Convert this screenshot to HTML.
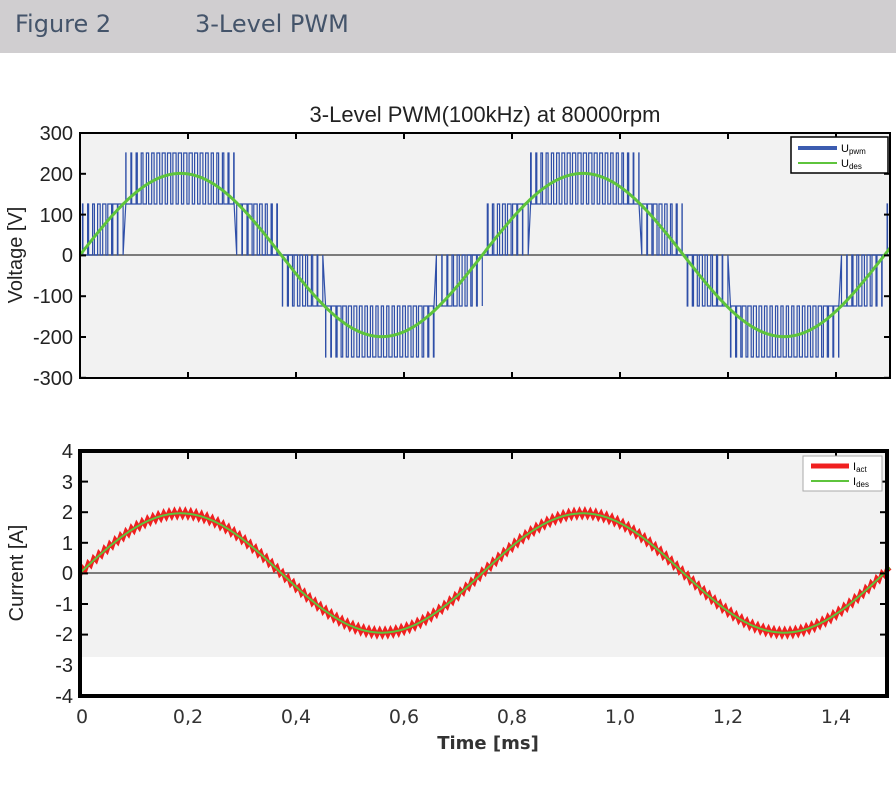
<!DOCTYPE html>
<html><head><meta charset="utf-8"><style>
body{margin:0;background:#fff;width:896px;height:811px;overflow:hidden;font-family:"Liberation Sans",Arial,sans-serif}
.hdr{position:absolute;left:0;top:0;width:896px;height:53px;background:#d0ced0;color:#44546a;font-family:"DejaVu Sans","Liberation Sans",sans-serif;font-size:24px}
</style></head><body>
<div class="hdr"><span style="position:absolute;left:15px;top:10px">Figure 2</span><span style="position:absolute;left:195px;top:10px">3-Level PWM</span></div>
<svg id="s" width="896" height="811" style="position:absolute;left:0;top:0" xmlns="http://www.w3.org/2000/svg">
<rect x="80" y="133" width="810" height="245" fill="#f2f2f2"/>
<rect x="80" y="451" width="807" height="206" fill="#f2f2f2"/>
<line x1="80" y1="255" x2="890" y2="255" stroke="#555" stroke-width="1.5"/>
<line x1="80" y1="573" x2="887" y2="573" stroke="#555" stroke-width="1.5"/>
<path id="pwm" fill="none" stroke="#2f4fa8" stroke-width="1.2"/>
<path id="ud" fill="none" stroke="#5ec43c" stroke-width="3"/>
<path id="ia" fill="none" stroke="#f02020" stroke-width="4"/>
<path id="id" fill="none" stroke="#5ec43c" stroke-width="2"/>
<rect x="80" y="133" width="810" height="245" fill="none" stroke="#000" stroke-width="2"/>
<rect x="80" y="451" width="807" height="245" fill="none" stroke="#000" stroke-width="4"/>
<g id="ticks" stroke="#000" stroke-width="2"></g>
<g font-size="20" fill="#222" text-anchor="end">
<text x="73" y="140">300</text><text x="73" y="181">200</text><text x="73" y="222">100</text><text x="73" y="262">0</text><text x="73" y="303">-100</text><text x="73" y="344">-200</text><text x="73" y="385">-300</text>
<text x="73" y="458">4</text><text x="73" y="489">3</text><text x="73" y="519">2</text><text x="73" y="550">1</text><text x="73" y="580">0</text><text x="73" y="611">-1</text><text x="73" y="641">-2</text><text x="73" y="672">-3</text><text x="73" y="703">-4</text>
</g>
<text x="485" y="122" font-size="22" text-anchor="middle" fill="#222">3-Level PWM(100kHz) at 80000rpm</text>
<text transform="translate(22,255) rotate(-90)" font-size="20" text-anchor="middle" fill="#222">Voltage [V]</text>
<text transform="translate(23,573) rotate(-90)" font-size="20" text-anchor="middle" fill="#222">Current [A]</text>
<g font-family="DejaVu Sans,Liberation Sans,sans-serif" font-size="19" fill="#333" text-anchor="middle">
<text x="82" y="723">0</text><text x="188" y="723">0,2</text><text x="296" y="723">0,4</text><text x="404" y="723">0,6</text><text x="512" y="723">0,8</text><text x="620" y="723">1,0</text><text x="728" y="723">1,2</text><text x="836" y="723">1,4</text>
</g>
<text x="488" y="749" font-family="DejaVu Sans,Liberation Sans,sans-serif" font-size="18" font-weight="bold" text-anchor="middle" fill="#333">Time [ms]</text>
<rect x="791" y="137" width="97" height="36" fill="#fff" stroke="#000" stroke-width="1.5"/>
<line x1="798" y1="148" x2="837" y2="148" stroke="#3c5cb0" stroke-width="4"/>
<line x1="798" y1="163" x2="837" y2="163" stroke="#5ec43c" stroke-width="2"/>
<text x="841" y="152" font-size="11">U<tspan font-size="8" dy="2">pwm</tspan></text>
<text x="841" y="167" font-size="11">U<tspan font-size="8" dy="2">des</tspan></text>
<rect x="803" y="456" width="79" height="35" fill="#fff" stroke="#aaa" stroke-width="1"/>
<line x1="811" y1="466" x2="849" y2="466" stroke="#f02020" stroke-width="5"/>
<line x1="811" y1="481" x2="849" y2="481" stroke="#5ec43c" stroke-width="2"/>
<text x="853" y="470" font-size="11">I<tspan font-size="8" dy="2">act</tspan></text>
<text x="853" y="485" font-size="11">I<tspan font-size="8" dy="2">des</tspan></text>
</svg>
<script>
var X0=80,PX=540,T=0.745;
function X(t){return X0+t*PX}
var f=function(t){return Math.sin(2*Math.PI*t/T)};
var p="",ud="",ia="",idp="";
var Yv=function(v){return 255-v*0.408};
var Yi=function(i){return 573-i*30.6};
var per=0.01,n=Math.floor(1.5/per);
for(var k=0;k<n;k++){var t=k*per,tc=t+per/2,v=200*f(tc),a=Math.abs(v),s=v>=0?1:-1,lo,hi,d;
if(a<125){lo=0;hi=125*s;d=a/125}else{lo=125*s;hi=250*s;d=(a-125)/125}
var t1=t+per*(1-d)/2,t2=t+per*(1+d)/2;
if(k==0)p+="M"+X(t).toFixed(1)+" "+Yv(lo).toFixed(1);
p+="L"+X(t1).toFixed(1)+" "+Yv(lo).toFixed(1)+"L"+X(t1).toFixed(1)+" "+Yv(hi).toFixed(1)+"L"+X(t2).toFixed(1)+" "+Yv(hi).toFixed(1)+"L"+X(t2).toFixed(1)+" "+Yv(lo).toFixed(1);}
for(var i=0;i<=600;i++){var t=i*1.5/600;ud+=(i?"L":"M")+X(t).toFixed(1)+" "+Yv(200*f(t)).toFixed(1);idp+=(i?"L":"M")+X(t).toFixed(1)+" "+Yi(1.95*f(t)).toFixed(1);}
for(var k=0;k<=n*2;k++){var t=k*per/2,r=(k%2?0.09:-0.09);ia+=(k?"L":"M")+X(t).toFixed(1)+" "+Yi(1.95*f(t)+r).toFixed(1);}
document.getElementById("pwm").setAttribute("d",p);
document.getElementById("ud").setAttribute("d",ud);
document.getElementById("ia").setAttribute("d",ia);
document.getElementById("id").setAttribute("d",idp);
var g="";for(var j=1;j<8;j++){var x=X(j*0.2);g+='<line x1="'+x+'" y1="133" x2="'+x+'" y2="139"/><line x1="'+x+'" y1="378" x2="'+x+'" y2="372"/><line x1="'+x+'" y1="451" x2="'+x+'" y2="459"/>';}
for(var j=0;j<7;j++){var y=133+j*40.8;g+='<line x1="80" y1="'+y+'" x2="86" y2="'+y+'"/><line x1="890" y1="'+y+'" x2="884" y2="'+y+'"/>';}
for(var j=1;j<8;j++){var y=451+j*30.6;if(y<657)g+='<line x1="80" y1="'+y+'" x2="88" y2="'+y+'"/><line x1="887" y1="'+y+'" x2="880" y2="'+y+'"/>';}
document.getElementById("ticks").innerHTML=g;
</script>
</body></html>
